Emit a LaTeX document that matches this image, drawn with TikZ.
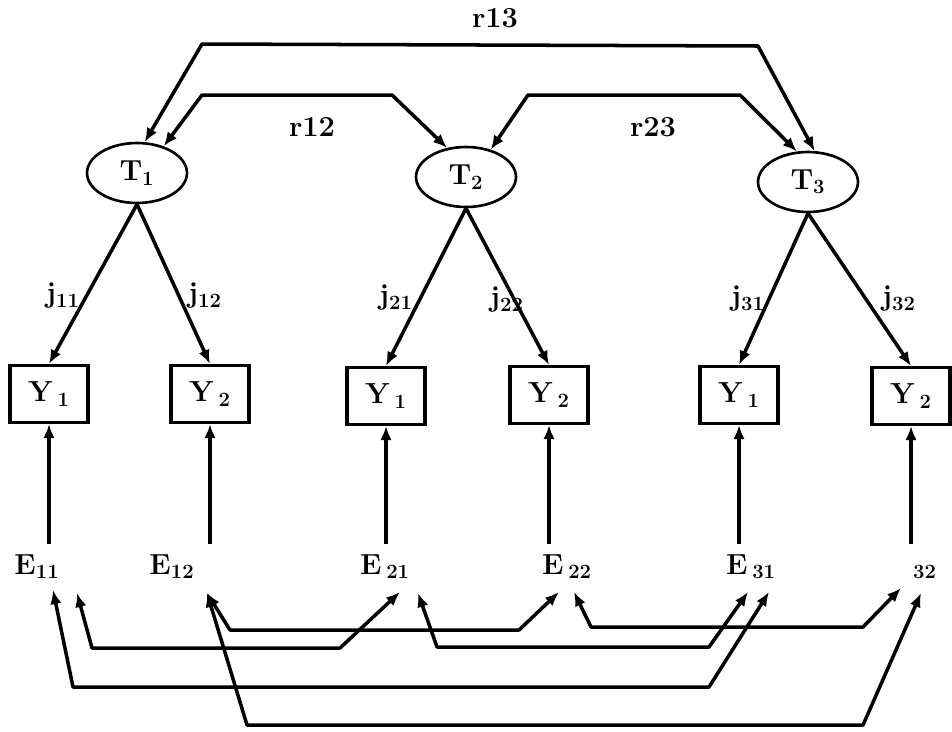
\documentclass[tikz,border=0pt]{standalone}
\usetikzlibrary{arrows.meta, shapes.geometric}
\tikzset{
	latent/.style ={ellipse, draw=black, line width=1.5pt, minimum width=2cm, minimum height=1.2cm, inner sep=0pt},
	indic/.style  ={rectangle, draw=black, line width=1.8pt, minimum width=1.56cm, minimum height=1.14cm, inner sep=0pt},
	errlab/.style ={text height=12pt, text depth=4pt, inner xsep=1pt, inner ysep=5pt},
	load/.style   ={-{Latex[length=8pt,width=6.5pt]}, line width=2pt},
	covar/.style  ={{Latex[length=8pt,width=6.5pt]}-{Latex[length=8pt,width=6.5pt]}, line width=2pt, line join=round},
}

\begin{document}
\begin{tikzpicture}[x=0.02cm, y=-0.02cm, font=\fontsize{16.5}{19}\selectfont\bfseries]
	\useasboundingbox (0,0) rectangle (952,731);
	% traits
	\node[latent] (T1) at (137,173) {T\textsubscript{1}};
	\node[latent] (T2) at (466,177) {T\textsubscript{2}};
	\node[latent] (T3) at (808,182) {T\textsubscript{3}};
	% indicators
	\node[indic] (Y11) at (49,394)  {Y\,\textsubscript{1}};
	\node[indic] (Y12) at (210,394) {Y\,\textsubscript{2}};
	\node[indic] (Y21) at (386,396) {Y\,\textsubscript{1}};
	\node[indic] (Y22) at (549,395) {Y\,\textsubscript{2}};
	\node[indic] (Y31) at (739,395) {Y\,\textsubscript{1}};
	\node[indic] (Y32) at (911,396) {Y\,\textsubscript{2}};
	% errors
	\node[errlab] (E11) at (37,567)  {E\textsubscript{11}};
	\node[errlab] (E12) at (172,567) {E\textsubscript{12}};
	\node[errlab] (E21) at (385,567) {E\,\textsubscript{21}};
	\node[errlab] (E22) at (567,567) {E\,\textsubscript{22}};
	\node[errlab] (E31) at (751,567) {E\,\textsubscript{31}};
	\node[errlab] (E32) at (925,567) {\textsubscript{32}};
	% loadings
	\foreach \t in {1,2,3}
		\foreach \i in {1,2}
			\draw[load] (T\t.south) -- (Y\t\i.north);
	\node (j11) at (63,296)  {j\textsubscript{11}};
	\node (j12) at (205,296) {j\textsubscript{12}};
	\node (j21) at (396,298) {j\textsubscript{21}};
	\node (j22) at (507,300) {j\textsubscript{22}};
	\node (j31) at (748,299) {j\textsubscript{31}};
	\node (j32) at (899,299) {j\textsubscript{32}};
	\foreach \n in {11,12,21,22,31,32}
		\draw[load] (E\n.north -| Y\n.south) -- (Y\n.south);
	% trait correlations
	\draw[covar] (T1.76) -- (202,44) -- (758,46) -- (T3.78);
	\draw[covar] (T1.45) -- (202,95) -- (392,95) -- (T2.123);
	\draw[covar] (T2.48) -- (528,95) -- (740,95) -- (T3.110);
	\node (r13) at (495,18)  {r13};
	\node (r12) at (312,127) {r12};
	\node (r23) at (653,127) {r23};
	% error covariances
	\draw[covar] ([shift={(40,26)}]E11.center) -- (92,648) -- (340,648) -- ([shift={(15,25)}]E21.center);
	\draw[covar] ([shift={(16,23)}]E11.center) -- (73,687) -- (709,687) -- ([shift={(18,25)}]E31.center);
	\draw[covar] ([shift={(35,26)}]E12.center) -- (230,630) -- (519,630) -- ([shift={(-8,25)}]E22.center);
	\draw[covar] ([shift={(35,26)}]E12.center) -- (247,725) -- (863,725) -- ([shift={(-4,26)}]E32.center);
	\draw[covar] ([shift={(33,26)}]E21.center) -- (437,647) -- (709,647) -- ([shift={(-3,25)}]E31.center);
	\draw[covar] ([shift={(7,25)}]E22.center) -- (591,627) -- (863,627) -- ([shift={(-24,21)}]E32.center);
\end{tikzpicture}
\end{document}
